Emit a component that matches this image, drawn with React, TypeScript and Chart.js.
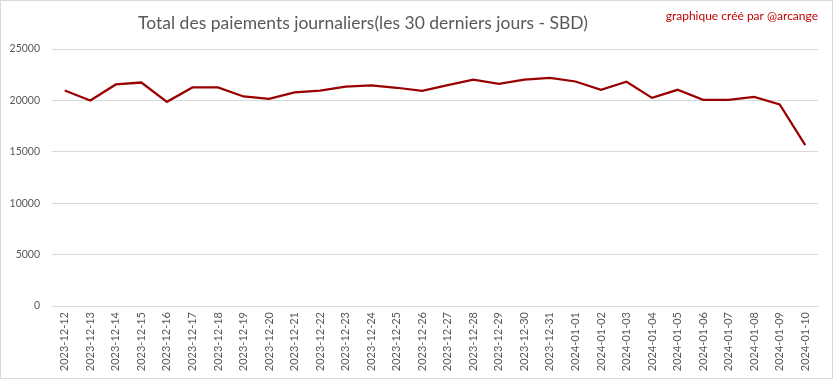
import React, { useEffect, useRef } from "react";
import { Chart, registerables } from "chart.js";

Chart.register(...registerables);

const categories = [
  "2023-12-12", "2023-12-13", "2023-12-14", "2023-12-15", "2023-12-16",
  "2023-12-17", "2023-12-18", "2023-12-19", "2023-12-20", "2023-12-21",
  "2023-12-22", "2023-12-23", "2023-12-24", "2023-12-25", "2023-12-26",
  "2023-12-27", "2023-12-28", "2023-12-29", "2023-12-30", "2023-12-31",
  "2024-01-01", "2024-01-02", "2024-01-03", "2024-01-04", "2024-01-05",
  "2024-01-06", "2024-01-07", "2024-01-08", "2024-01-09", "2024-01-10",
];

const payments = [
  20960, 19990, 21550, 21740, 19860,
  21260, 21260, 20380, 20160, 20770,
  20960, 21350, 21450, 21230, 20930,
  21490, 22010, 21620, 22010, 22200,
  21840, 21030, 21810, 20250, 21030,
  20060, 20060, 20350, 19600, 15650,
];

const yTicks = [0, 5000, 10000, 15000, 20000, 25000];

const titleText = "Total des paiements journaliers(les 30 derniers jours - SBD)";
const creditText = "graphique créé par @arcange";

const decorPlugin = {
  id: "decor",
  beforeDraw(chart: any) {
    const ctx = chart.ctx;
    ctx.save();
    ctx.fillStyle = "#ffffff";
    ctx.fillRect(0, 0, chart.width, chart.height);
    ctx.restore();
  },
  afterDraw(chart: any) {
    const ctx = chart.ctx;
    ctx.save();
    ctx.strokeStyle = "#d9d9d9";
    ctx.lineWidth = 1;
    ctx.strokeRect(0.5, 0.5, chart.width - 1, chart.height - 1);
    ctx.font = "17.5px Lato";
    ctx.fillStyle = "#595959";
    ctx.textAlign = "center";
    ctx.textBaseline = "middle";
    ctx.fillText(titleText, 363, 23);
    ctx.font = "12px Lato";
    ctx.fillStyle = "#c00000";
    ctx.textAlign = "right";
    ctx.fillText(creditText, 818, 16);
    ctx.restore();
  },
};

export default function App() {
  const ref = useRef<HTMLCanvasElement | null>(null);
  useEffect(() => {
    document.body.style.margin = "0";
    const chart = new Chart(ref.current!, {
      type: "line",
      data: {
        labels: categories,
        datasets: [
          {
            data: payments,
            borderColor: "#990000",
            backgroundColor: "#990000",
            borderWidth: 2.25,
            pointRadius: 0,
            tension: 0,
          },
        ],
      },
      options: {
        animation: false,
        responsive: false,
        layout: { padding: { left: 0, right: 15, top: 49, bottom: 0 } },
        plugins: { legend: { display: false }, tooltip: { enabled: false } },
        scales: {
          x: {
            offset: true,
            grid: { display: false, drawTicks: false },
            border: { display: true, color: "#d9d9d9" },
            ticks: {
              minRotation: 90,
              maxRotation: 90,
              autoSkip: false,
              padding: 6,
              color: "#595959",
              font: { family: "Lato", size: 11 },
            },
            afterFit(scale: any) {
              scale.height = 73;
            },
          },
          y: {
            min: 0,
            max: 25000,
            afterBuildTicks(scale: any) {
              scale.ticks = yTicks.map((v) => ({ value: v }));
            },
            grid: { color: "#d9d9d9", drawTicks: false },
            border: { display: false },
            ticks: {
              padding: 12,
              color: "#595959",
              font: { family: "Lato", size: 10.5 },
              callback: (v: any) => String(v),
            },
            afterFit(scale: any) {
              scale.width = 52;
            },
          },
        },
      },
      plugins: [decorPlugin],
    });
    return () => chart.destroy();
  }, []);
  return <canvas ref={ref} width={833} height={379} style={{ display: "block" }} />;
}
